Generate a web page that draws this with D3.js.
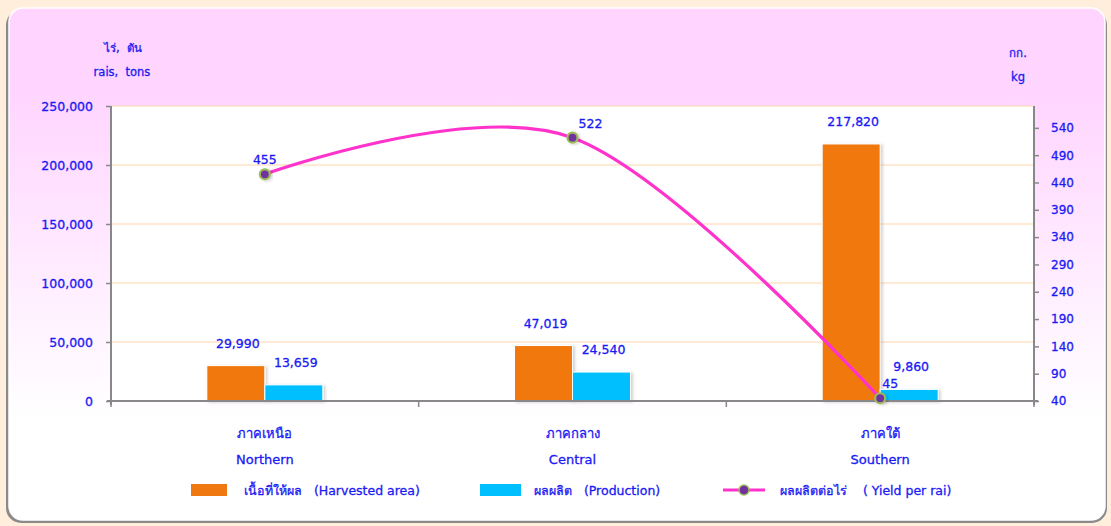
<!DOCTYPE html>
<html><head><meta charset="utf-8">
<script src="https://cdn.jsdelivr.net/npm/d3@7"></script>
<style>
html,body{margin:0;padding:0;background:#FFEEDC;}
svg{display:block;}
text{font-family:"DejaVu Sans","Noto Sans",Tahoma,sans-serif;fill:#1A1AF5;stroke:#1A1AF5;stroke-width:0.3px;white-space:pre;}
</style></head>
<body>
<script>
const categoriesTh = ["ภาคเหนือ", "ภาคกลาง", "ภาคใต้"];
const categoriesEn = ["Northern", "Central", "Southern"];
const harvestedArea = [29990, 47019, 217820];
const production = [13659, 24540, 9860];
const yieldPerRai = [455, 522, 45];
const leftTicks = [0, 50000, 100000, 150000, 200000, 250000];
const rightTicks = [40, 90, 140, 190, 240, 290, 340, 390, 440, 490, 540];
const legendLabels = ["เนื้อที่ให้ผล   (Harvested area)", "ผลผลิต   (Production)", "ผลผลิตต่อไร่    ( Yield per rai)"];

const W = 1111, H = 526;
const svg = d3.select("body").append("svg").attr("width", W).attr("height", H);
const defs = svg.append("defs");
const grad = defs.append("linearGradient").attr("id","bg").attr("x1",0).attr("y1",0).attr("x2",0).attr("y2",1);
grad.append("stop").attr("offset","0%").attr("stop-color","#FFD4FF");
grad.append("stop").attr("offset","18%").attr("stop-color","#FFD6FF");
grad.append("stop").attr("offset","80%").attr("stop-color","#FFFFFF");
grad.append("stop").attr("offset","100%").attr("stop-color","#FFFFFF");
const sh = defs.append("filter").attr("id","sh").attr("x","-20%").attr("y","-20%").attr("width","150%").attr("height","150%");
sh.append("feDropShadow").attr("dx",2).attr("dy",1).attr("stdDeviation",1.5).attr("flood-color","#000").attr("flood-opacity",0.18);

// page panel
svg.append("rect").attr("x",0).attr("y",0).attr("width",W).attr("height",H).attr("fill","#FFEEDC");
svg.append("rect").attr("x",6).attr("y",10).attr("width",1101).attr("height",513).attr("rx",15).attr("fill","#8a8a8a");
svg.append("rect").attr("x",9).attr("y",8).attr("width",1096).attr("height",512).attr("rx",14).attr("fill","url(#bg)").attr("stroke","#fff").attr("stroke-width",1.5);

const L = 111, R = 1034, T = 106, B = 401;
svg.append("rect").attr("x",L).attr("y",T).attr("width",R-L).attr("height",B-T).attr("fill","#fff");

const x0 = d3.scaleBand().domain(categoriesEn).range([L,R]);
const bw = 58;
const yL = d3.scaleLinear().domain([0,250000]).range([B,T]);
const yR = d3.scaleLinear().domain([40,580]).range([B,T]);

// gridlines
svg.append("g").selectAll("line").data(leftTicks.slice(1)).join("line")
  .attr("x1",L).attr("x2",R).attr("y1",d=>yL(d)).attr("y2",d=>yL(d))
  .attr("stroke","#FFD6AE").attr("stroke-width",1.2);

// bars
const series = [
  {vals: harvestedArea, color:"#F07810", off:-bw},
  {vals: production, color:"#00BFFF", off:0}
];
series.forEach(s=>{
  svg.append("g").selectAll("rect").data(s.vals).join("rect")
    .attr("x",(d,i)=>x0(categoriesEn[i])+x0.bandwidth()/2+s.off)
    .attr("y",d=>yL(d)).attr("width",bw).attr("height",d=>B-yL(d))
    .attr("fill",s.color).attr("stroke","#fff").attr("stroke-width",1).attr("filter","url(#sh)");
  svg.append("g").selectAll("text").data(s.vals).join("text")
    .attr("x",(d,i)=>x0(categoriesEn[i])+x0.bandwidth()/2+s.off+bw/2+2)
    .attr("y",d=>yL(d)-18).attr("text-anchor","middle").attr("font-size",12.5)
    .text(d=>d3.format(",")(d));
});

// axes
const axisG = svg.append("g").attr("stroke","#888").attr("stroke-width",2);
axisG.append("line").attr("x1",L).attr("x2",L).attr("y1",T).attr("y2",B+4);
axisG.append("line").attr("x1",R).attr("x2",R).attr("y1",T).attr("y2",B+4);
axisG.append("line").attr("x1",L-4).attr("x2",R+4).attr("y1",B).attr("y2",B);

const la = svg.append("g").attr("transform",`translate(${L},0)`).call(d3.axisLeft(yL).tickValues(leftTicks).tickSize(5).tickPadding(13).tickFormat(d3.format(",")));
la.select(".domain").remove();
la.selectAll("line").attr("stroke","#888").attr("stroke-width",1.5);
la.selectAll("text").attr("font-size",12.5).attr("fill","#1A1AF5").attr("font-family",null);

const ra = svg.append("g").attr("transform",`translate(${R},0)`).call(d3.axisRight(yR).tickValues(rightTicks).tickSize(5).tickPadding(12));
ra.select(".domain").remove();
ra.selectAll("line").attr("stroke","#888").attr("stroke-width",1.5);
ra.selectAll("text").attr("font-size",12).attr("fill","#1A1AF5").attr("font-family",null);

// category separators
const sepX = [L, ...categoriesEn.slice(1).map(c=>x0(c)), R];
svg.append("g").selectAll("line").data(sepX).join("line")
  .attr("x1",d=>d).attr("x2",d=>d).attr("y1",B).attr("y2",B+6).attr("stroke","#888").attr("stroke-width",1.5);

// category labels
svg.append("g").selectAll("text").data(categoriesTh).join("text")
  .attr("x",(d,i)=>x0(categoriesEn[i])+x0.bandwidth()/2).attr("y",438).attr("text-anchor","middle").attr("font-size",13).text(d=>d);
svg.append("g").selectAll("text").data(categoriesEn).join("text")
  .attr("x",(d,i)=>x0(categoriesEn[i])+x0.bandwidth()/2).attr("y",464).attr("text-anchor","middle").attr("font-size",13).text(d=>d);

// yield line
const pts = yieldPerRai.map((v,i)=>[x0(categoriesEn[i])+x0.bandwidth()/2, yR(v)]);
svg.append("path").attr("d", d3.line().curve(d3.curveCardinal.tension(0))(pts))
  .attr("fill","none").attr("stroke","#FF33CC").attr("stroke-width",3.2);
svg.append("g").selectAll("circle").data(pts).join("circle")
  .attr("cx",d=>d[0]).attr("cy",d=>d[1]).attr("r",5)
  .attr("fill","#7030A0").attr("stroke","#9BBB59").attr("stroke-width",2.2).attr("filter","url(#sh)");
const yLabelDx = [0, 18, 10];
svg.append("g").selectAll("text").data(yieldPerRai).join("text")
  .attr("x",(d,i)=>pts[i][0]+yLabelDx[i]).attr("y",(d,i)=>pts[i][1]-10)
  .attr("text-anchor","middle").attr("font-size",12.5).text(d=>d);

// unit titles
svg.append("text").attr("x",123).attr("y",52).attr("text-anchor","middle").attr("font-size",11.5).text("ไร่,  ตัน");
svg.append("text").attr("x",122).attr("y",76).attr("text-anchor","middle").attr("font-size",11.5).text("rais,  tons");
svg.append("text").attr("x",1018).attr("y",57).attr("text-anchor","middle").attr("font-size",11.5).text("กก.");
svg.append("text").attr("x",1018).attr("y",81).attr("text-anchor","middle").attr("font-size",11.5).text("kg");

// legend
const lg = svg.append("g");
lg.append("rect").attr("x",191).attr("y",484).attr("width",36).attr("height",12).attr("fill","#F07810");
lg.append("text").attr("x",244).attr("y",495).attr("font-size",12.5).text(legendLabels[0]);
lg.append("rect").attr("x",480).attr("y",484).attr("width",41).attr("height",12).attr("fill","#00BFFF");
lg.append("text").attr("x",534).attr("y",495).attr("font-size",12.5).text(legendLabels[1]);
lg.append("line").attr("x1",723).attr("x2",765).attr("y1",490).attr("y2",490).attr("stroke","#FF33CC").attr("stroke-width",3.2);
lg.append("circle").attr("cx",744).attr("cy",490).attr("r",5).attr("fill","#7030A0").attr("stroke","#9BBB59").attr("stroke-width",1.5);
lg.append("text").attr("x",780).attr("y",495).attr("font-size",12.5).text(legendLabels[2]);
</script>
</body></html>
